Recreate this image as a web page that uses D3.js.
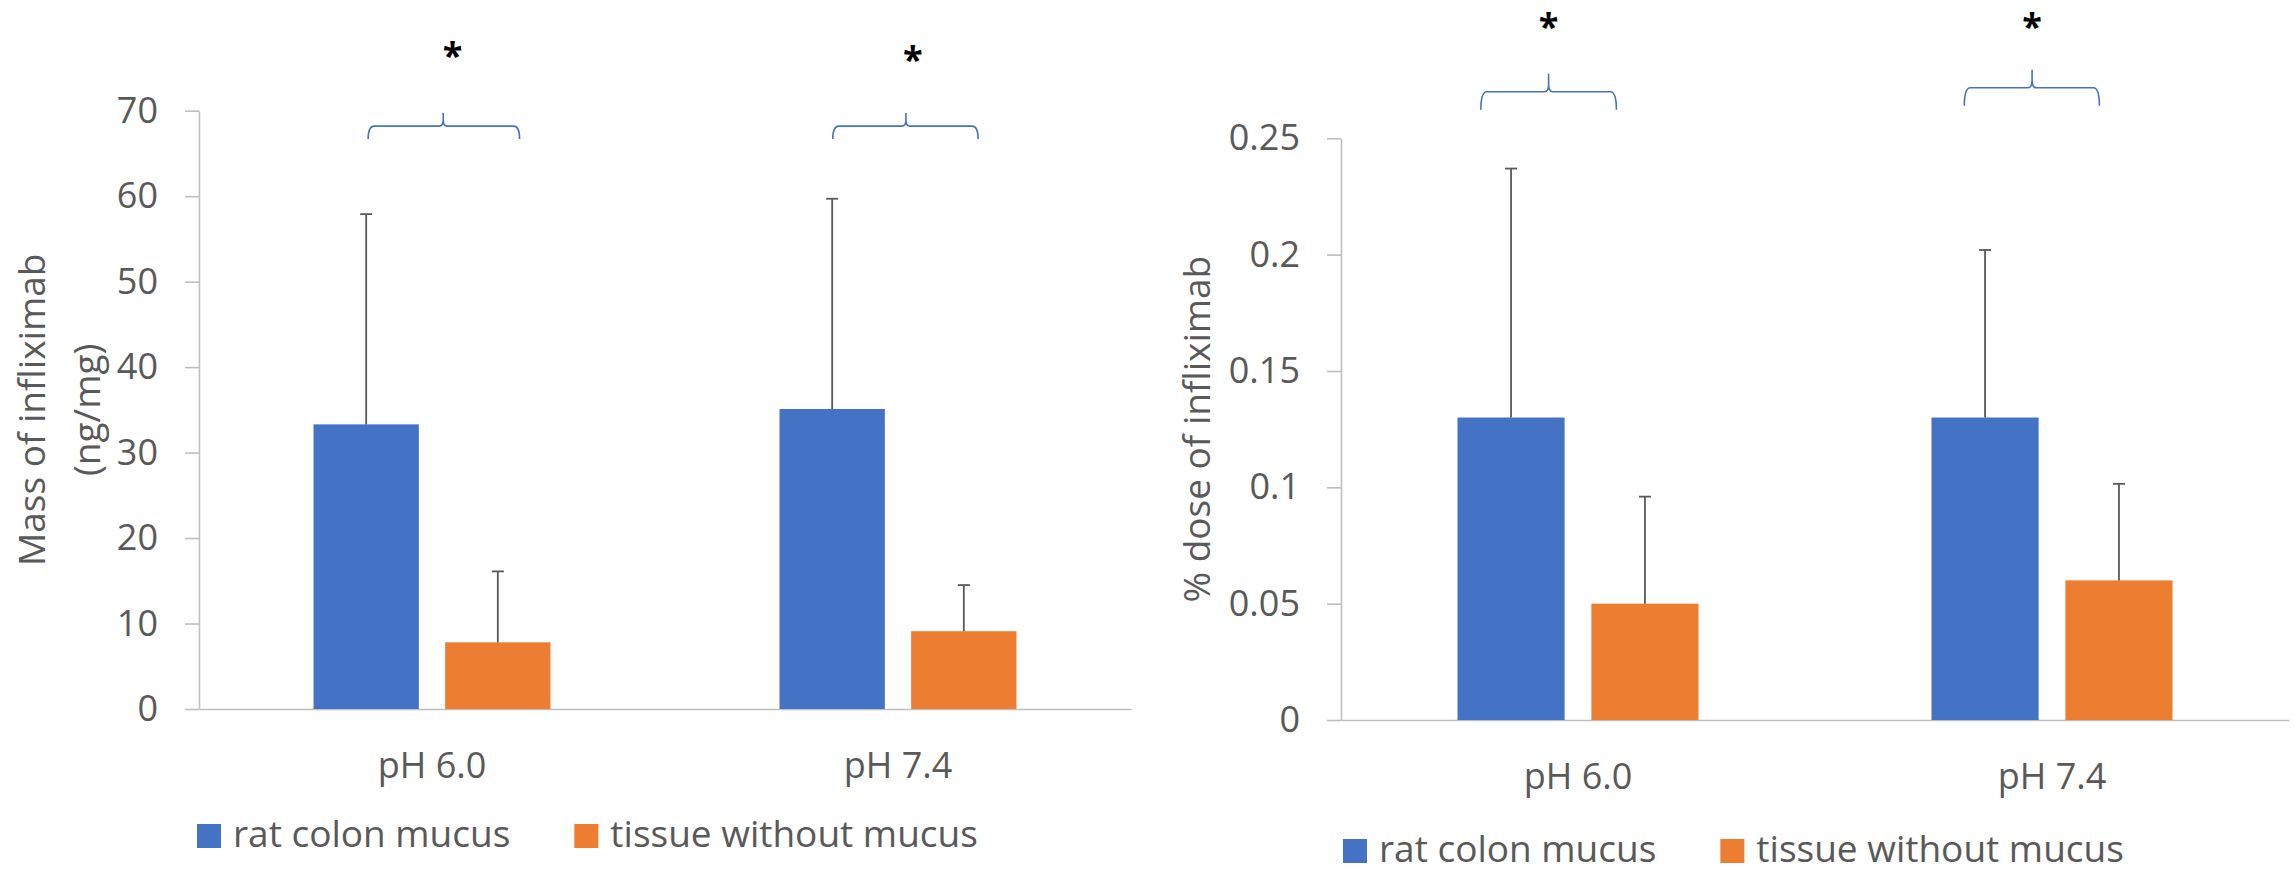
<!DOCTYPE html>
<html>
<head>
<meta charset="utf-8">
<script src="https://cdn.jsdelivr.net/npm/d3@7"></script>
<style>
  body { margin: 0; background: #fff; }
  text { font-family: 'Open Sans', sans-serif; }
</style>
</head>
<body>
<svg id="chart" width="2295" height="872"></svg>
<script>
// categories and series
const categories = ['pH 6.0', 'pH 7.4'];
const seriesNames = ['rat colon mucus', 'tissue without mucus'];
const seriesColors = ['#4472C4', '#ED7D31'];

// mass of infliximab (ng/mg), mean and error
const massMucus = [33.3, 35.1];
const massMucusErr = [24.6, 24.6];
const massTissue = [7.8, 9.1];
const massTissueErr = [8.3, 5.4];
const massTicks = [0, 10, 20, 30, 40, 50, 60, 70];

// % dose of infliximab, mean and error
const doseMucus = [0.13, 0.13];
const doseMucusErr = [0.107, 0.072];
const doseTissue = [0.05, 0.06];
const doseTissueErr = [0.046, 0.0415];
const doseTicks = [0, 0.05, 0.1, 0.15, 0.2, 0.25];

// significance braces: span as fraction of the category band, level in data units
const massBraces = [
  { cat: 'pH 6.0', from: 0.363, to: 0.688, tip: 0.524, level: 68.2, star: 0.544, starLevel: 75.0 },
  { cat: 'pH 7.4', from: 0.360, to: 0.672, tip: 0.517, level: 68.2, star: 0.532, starLevel: 74.5 }
];
const doseBraces = [
  { cat: 'pH 6.0', from: 0.295, to: 0.581, tip: 0.438, level: 0.2700, star: 0.438, starLevel: 0.2926 },
  { cat: 'pH 7.4', from: 0.315, to: 0.600, tip: 0.458, level: 0.2717, star: 0.458, starLevel: 0.2926 }
];

const svg = d3.select('#chart');
svg.append('rect').attr('width', 2295).attr('height', 872).attr('fill', '#fff');

const textColor = '#595959';
const axisColor = '#BFBFBF';

function drawChart(cfg) {
  const g = svg.append('g');

  const x = d3.scaleBand().domain(categories).range([cfg.left, cfg.right]);
  const inner = d3.scaleBand().domain(seriesNames)
    .range([0, x.bandwidth()])
    .paddingInner(0.2)
    .paddingOuter(0.87);
  const y = d3.scaleLinear().domain([0, cfg.max]).range([cfg.bottom, cfg.top]);

  // y axis
  const yAxis = g.append('g')
    .attr('transform', `translate(${cfg.left},0)`)
    .call(d3.axisLeft(y).tickValues(cfg.ticks).tickFormat(cfg.fmt)
      .tickSize(14).tickSizeOuter(0).tickPadding(27));
  yAxis.selectAll('path, line').attr('stroke', axisColor).attr('stroke-width', 1.6);
  yAxis.selectAll('text').attr('fill', textColor).style('font-size', '36px');

  // x axis
  const xAxis = g.append('g')
    .attr('transform', `translate(0,${y(0)})`)
    .call(d3.axisBottom(x).tickSize(0).tickSizeOuter(0));
  xAxis.select('.domain').attr('stroke', axisColor).attr('stroke-width', 1.6);
  xAxis.selectAll('text').attr('fill', textColor).style('font-size', '36px')
    .attr('y', 69).attr('dy', 0);

  // bars
  const series = [
    { name: seriesNames[0], values: cfg.mucus, errors: cfg.mucusErr, color: seriesColors[0] },
    { name: seriesNames[1], values: cfg.tissue, errors: cfg.tissueErr, color: seriesColors[1] }
  ];
  series.forEach(s => {
    const rows = categories.map((c, i) => ({ cat: c, v: s.values[i], e: s.errors[i] }));
    g.selectAll(null).data(rows).enter().append('rect')
      .attr('x', d => x(d.cat) + inner(s.name))
      .attr('y', d => y(d.v))
      .attr('width', inner.bandwidth())
      .attr('height', d => y(0) - y(d.v))
      .attr('fill', s.color);

    // error bars (upper only)
    const cx = d => x(d.cat) + inner(s.name) + inner.bandwidth() / 2;
    g.selectAll(null).data(rows).enter().append('line')
      .attr('x1', cx).attr('x2', cx)
      .attr('y1', d => y(d.v)).attr('y2', d => y(d.v + d.e))
      .attr('stroke', '#595959').attr('stroke-width', 1.8);
    g.selectAll(null).data(rows).enter().append('line')
      .attr('x1', d => cx(d) - 6).attr('x2', d => cx(d) + 6)
      .attr('y1', d => y(d.v + d.e)).attr('y2', d => y(d.v + d.e))
      .attr('stroke', '#595959').attr('stroke-width', 1.8);
  });

  // braces and asterisks
  const h = cfg.braceSize;
  g.selectAll(null).data(cfg.braces).enter().append('path')
    .attr('d', b => {
      const x0 = x(b.cat) + b.from * x.bandwidth();
      const x1 = x(b.cat) + b.to * x.bandwidth();
      const xc = x(b.cat) + b.tip * x.bandwidth();
      const yl = y(b.level);
      return `M${x0},${yl + h} Q${x0},${yl} ${x0 + 6},${yl} H${xc - 4} Q${xc},${yl} ${xc},${yl - h * 0.45} V${yl - h}` +
             `M${xc},${yl - h * 0.45} Q${xc},${yl} ${xc + 4},${yl} H${x1 - 6} Q${x1},${yl} ${x1},${yl + h}`;
    })
    .attr('fill', 'none')
    .attr('stroke', '#4472C4')
    .attr('stroke-width', 1.6);

  g.selectAll(null).data(cfg.braces).enter().append('text')
    .attr('x', b => x(b.cat) + b.star * x.bandwidth())
    .attr('y', b => y(b.starLevel))
    .attr('text-anchor', 'middle')
    .style('font-size', '36px')
    .style('font-weight', 'bold')
    .attr('fill', '#000')
    .text('*');

  // y axis title
  const title = g.append('text')
    .attr('transform', `translate(${cfg.titleX},${(cfg.top + cfg.bottom) / 2}) rotate(-90)`)
    .attr('text-anchor', 'middle')
    .attr('fill', textColor)
    .style('font-size', '37px');
  cfg.title.forEach((line, i) => {
    title.append('tspan').attr('x', 0).attr('y', i * 55).text(line);
  });

  // legend
  const legend = g.append('g');
  let lx = cfg.legendX;
  seriesNames.forEach((name, i) => {
    legend.append('rect')
      .attr('x', lx).attr('y', cfg.legendY - 23)
      .attr('width', 24).attr('height', 24)
      .attr('fill', seriesColors[i]);
    const t = legend.append('text')
      .attr('x', lx + 36).attr('y', cfg.legendY)
      .attr('fill', textColor)
      .style('font-size', '37px')
      .text(name);
    lx += 36 + t.node().getComputedTextLength() + 64;
  });
}

drawChart({
  left: 199, right: 1131, top: 110.7, bottom: 709,
  max: 70, ticks: massTicks, fmt: d3.format('d'),
  mucus: massMucus, mucusErr: massMucusErr, tissue: massTissue, tissueErr: massTissueErr,
  braces: massBraces, braceSize: 13,
  title: ['Mass of infliximab', '(ng/mg)'], titleX: 45,
  legendX: 197, legendY: 847
});

drawChart({
  left: 1341, right: 2289, top: 138.3, bottom: 720,
  max: 0.25, ticks: doseTicks, fmt: d3.format('~g'),
  mucus: doseMucus, mucusErr: doseMucusErr, tissue: doseTissue, tissueErr: doseTissueErr,
  braces: doseBraces, braceSize: 18,
  title: ['% dose of infliximab'], titleX: 1210,
  legendX: 1343, legendY: 862
});
</script>
</body>
</html>
